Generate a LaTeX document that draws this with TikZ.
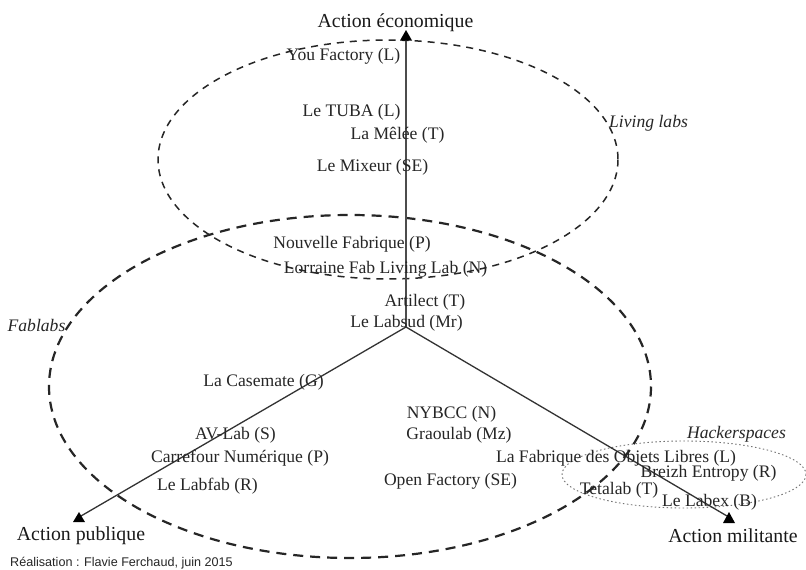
\documentclass[tikz,border=0pt]{standalone}
\usepackage{fontspec}
\setmainfont{Liberation Serif}
\newfontfamily\creditfont{Liberation Sans}
\begin{document}
\begin{tikzpicture}[x=1pt,y=-1pt,
  item/.style={inner sep=0pt,yshift=-2pt,font=\fontsize{17.6}{18}\selectfont,text=black!85},
  axislabel/.style={inner sep=0pt,yshift=-2.5pt,font=\fontsize{19.8}{20}\selectfont,text=black!90},
  grouplabel/.style={inner sep=0pt,yshift=-2pt,font=\fontsize{17.6}{18}\selectfont\itshape,text=black!85},
  mainaxis/.style={draw=black!70,line width=2.2pt},
  sideaxis/.style={draw=black!80,line width=1.3pt},
  tip/.style={fill=black},
  fabring/.style={draw=black!85,line width=2.2pt,dash pattern=on 10pt off 7pt},
  livingring/.style={draw=black!85,line width=1.5pt,dash pattern=on 7pt off 6pt},
  hackring/.style={draw=black!55,line width=0.9pt,dash pattern=on 1.5pt off 2.5pt}]
\useasboundingbox (0,0) rectangle (806,570);
\fill[white] (0,0) rectangle (806,570);

% group outlines
\draw[livingring] (388,159.5) ellipse [x radius=230, y radius=119.5];
\draw[fabring] (350,386.5) ellipse [x radius=301, y radius=171.5];
\draw[hackring] (684,474.5) ellipse [x radius=122, y radius=33.5];

% axes
\coordinate (C) at (406,327);
\coordinate (T) at (406,38);
\coordinate (L) at (81,516);
\coordinate (R) at (727,516);
\draw[mainaxis] (C) -- (T);
\draw[sideaxis] (C) -- (L);
\draw[sideaxis] (C) -- (R);
\fill[tip] (406,30) -- (412,40.5) -- (400,40.5) -- cycle;
\fill[tip] (79,512) -- (85,522) -- (73,522) -- cycle;
\fill[tip] (729,512) -- (735,523) -- (723,523) -- cycle;

% axis labels
\node[axislabel] (eco) at (395.5,20) {Action économique};
\node[axislabel] (pub) at (81,533) {Action publique};
\node[axislabel] (mil) at (733,533) {Action militante};

% group labels
\node[grouplabel,anchor=west] (liv) at (609,121) {Living labs};
\node[grouplabel] (fab) at (36.5,323) {Fablabs};
\node[grouplabel] (hack) at (736.5,432) {Hackerspaces};

% places
\node[item] (youf) at (343.5,54) {You Factory (L)};
\node[item] (tuba) at (351.5,110) {Le TUBA (L)};
\node[item] (melee) at (397.5,133) {La Mêlée (T)};
\node[item] (mixeur) at (372.5,165) {Le Mixeur (SE)};
\node[item] (nouv) at (352,242) {Nouvelle Fabrique (P)};
\node[item] (lorr) at (385.5,267) {Lorraine Fab Living Lab (N)};
\node[item] (artil) at (425,300) {Artilect (T)};
\node[item] (labsud) at (406.5,321) {Le Labsud (Mr)};
\node[item] (casem) at (263.5,380) {La Casemate (G)};
\node[item] (avlab) at (235.5,433) {AV-Lab (S)};
\node[item] (carref) at (240,456) {Carrefour Numérique (P)};
\node[item] (labfab) at (207.5,484) {Le Labfab (R)};
\node[item] (nybcc) at (451.5,412) {NYBCC (N)};
\node[item] (graou) at (459,433) {Graoulab (Mz)};
\node[item] (fobj) at (616,456) {La Fabrique des Objets Libres (L)};
\node[item] (openf) at (450.5,479) {Open Factory (SE)};
\node[item] (breizh) at (708.5,471) {Breizh Entropy (R)};
\node[item] (teta) at (619,488) {Tetalab (T)};
\node[item] (labex) at (709.5,500) {Le Labex (B)};

% credit
\node[inner sep=0pt,anchor=west,font=\creditfont\fontsize{12.6}{13}\selectfont,text=black!85] (credit) at (10,563) {Réalisation : Flavie Ferchaud, juin 2015};
\end{tikzpicture}
\end{document}
